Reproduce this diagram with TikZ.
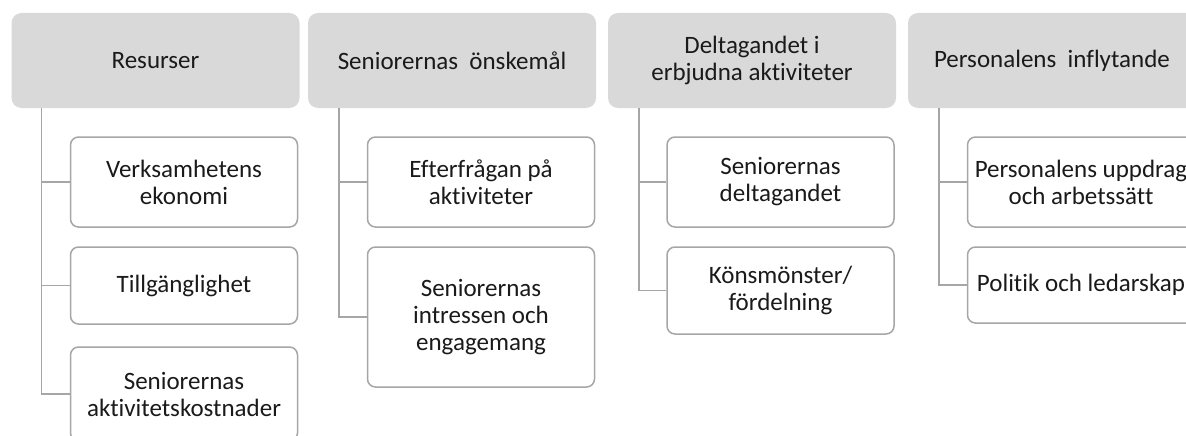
\documentclass[tikz,border=0pt]{standalone}
\usepackage{fontspec}
\setmainfont{Carlito}[Ligatures=NoCommon]
\definecolor{hdrfill}{HTML}{D9D9D9}
\definecolor{edge}{HTML}{A6A6A6}
\definecolor{txt}{HTML}{1A1A1A}
\tikzset{
  hdr/.style={rectangle, rounded corners=10pt, fill=hdrfill, draw=none, minimum width=288pt, minimum height=95pt, align=center, text=txt, font=\fontsize{25}{27.5}\selectfont, inner sep=0pt},
  child/.style={rectangle, rounded corners=8pt, fill=white, draw=edge, line width=1.5pt, minimum width=227pt, align=center, text=txt, font=\fontsize{25}{27}\selectfont, inner sep=0pt},
  conn/.style={draw=edge, line width=1.5pt}
}
\begin{document}
\begin{tikzpicture}[x=1pt,y=-1pt]
\useasboundingbox (0,0) rectangle (1186,436);
\clip (0,0) rectangle (1186,436);
% headers
\node[hdr] (h1) at (155.5,60.5) {Resurser};
\node[hdr] (h2) at (452,60.5) {Seniorernas\ \ önskemål};
\node[hdr] (h3) at (752,60.5) {Deltagandet i\\erbjudna aktiviteter};
\node[hdr] (h4) at (1052,60.5) {Personalens\ \ inflytande};
% column 1
\node[child, minimum height=90pt] (c11) at (184,182) {Verksamhetens\\ekonomi};
\node[child, minimum height=77pt] (c12) at (184,285.5) {Tillgänglighet};
\node[child, minimum height=94pt] (c13) at (184,394) {Seniorernas\\aktivitetskostnader};
% column 2
\node[child, minimum height=90pt] (c21) at (481,182) {Efterfrågan på\\aktiviteter};
\node[child, minimum height=140pt] (c22) at (481,317) {Seniorernas\\intressen och\\engagemang};
% column 3
\node[child, minimum height=90pt] (c31) at (780.5,182) {Seniorernas\\deltagandet};
\node[child, minimum height=87pt] (c32) at (780.5,290.5) {Könsmönster/\\fördelning};
% column 4
\node[child, minimum height=90pt] (c41) at (1081,182) {Personalens uppdrag\\och arbetssätt};
\node[child, minimum height=76pt] (c42) at (1081,285) {Politik och ledarskap};
% connectors
\draw[conn] ([xshift=30pt]h1.south west) |- (c11.west);
\draw[conn] ([xshift=30pt]h1.south west) |- (c12.west);
\draw[conn] ([xshift=30pt]h1.south west) |- (c13.west);
\draw[conn] ([xshift=31pt]h2.south west) |- (c21.west);
\draw[conn] ([xshift=31pt]h2.south west) |- (c22.west);
\draw[conn] ([xshift=31pt]h3.south west) |- (c31.west);
\draw[conn] ([xshift=31pt]h3.south west) |- (c32.west);
\draw[conn] ([xshift=31pt]h4.south west) |- (c41.west);
\draw[conn] ([xshift=31pt]h4.south west) |- (c42.west);
\end{tikzpicture}
\end{document}
